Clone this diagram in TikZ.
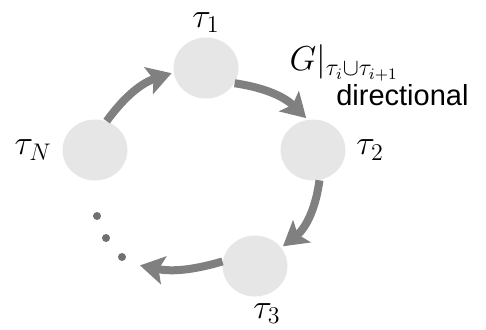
\documentclass[tikz,border=0pt]{standalone}
\usepackage{fontspec}
\newfontfamily\notesans{Liberation Sans}
\usetikzlibrary{arrows.meta,positioning,shapes.geometric}
\definecolor{CycleFill}{HTML}{E6E6E6}
\definecolor{CycleArrow}{HTML}{808080}
\definecolor{CycleDot}{HTML}{707070}
\tikzset{
  >={Stealth[length=12pt,width=14pt,inset=2.5pt]},
  flow/.style={->,line width=4pt,draw=CycleArrow,shorten >=1pt},
  setnode/.style={ellipse,fill=CycleFill,minimum width=32.5pt,
    minimum height=30.5pt,inner sep=0pt},
  setlabel/.style={inner sep=0pt,font=\fontsize{18}{21}\selectfont},
  dotnode/.style={circle,fill=CycleDot,minimum size=4pt,inner sep=0pt}
}
\begin{document}
\begin{tikzpicture}[x=0.5pt,y=-0.5pt]
  \useasboundingbox (0,0) rectangle (486,329);
  % sets on the cycle
  \node[setnode] (tau1) at (206,68) {};
  \node[setnode] (tau2) at (313,150) {};
  \node[setnode] (tau3) at (255,266) {};
  \node[setnode] (tauN) at (95,150) {};
  \node[setlabel,above=2pt of tau1] (lab1) {$\tau_1$};
  \node[setlabel,right=5pt of tau2] (lab2) {$\tau_2$};
  \node[setlabel,below=3pt of tau3,xshift=6pt] (lab3) {$\tau_3$};
  \node[setlabel,left=5pt of tauN] (labN) {$\tau_N$};
  \node[inner sep=0pt,font=\fontsize{17}{20}\selectfont] (glab) at (344,63) {$G|_{\tau_i\cup\tau_{i+1}}$};
  \node[inner sep=0pt,font=\notesans\fontsize{14.5}{17}\selectfont,anchor=north east] (dlab) at ([xshift=35pt,yshift=-1pt]glab.south east) {directional};
  % the dots
  \node[dotnode] (d1) at (97,216) {};
  \node[dotnode] (d2) at (106,238) {};
  \node[dotnode] (d3) at (122,257) {};
  \coordinate (tail) at (138,265);
  % arrows
  \draw[flow] (tauN.68) to[bend left=18] (tau1.188);
  \draw[flow] (tau1.-28) to[bend left=18] (tau2.100);
  \draw[flow] (tau2.-78) to[bend left=22] (tau3.35);
  \draw[flow] (tau3.172) to[bend left=14] (tail);
\end{tikzpicture}
\end{document}
